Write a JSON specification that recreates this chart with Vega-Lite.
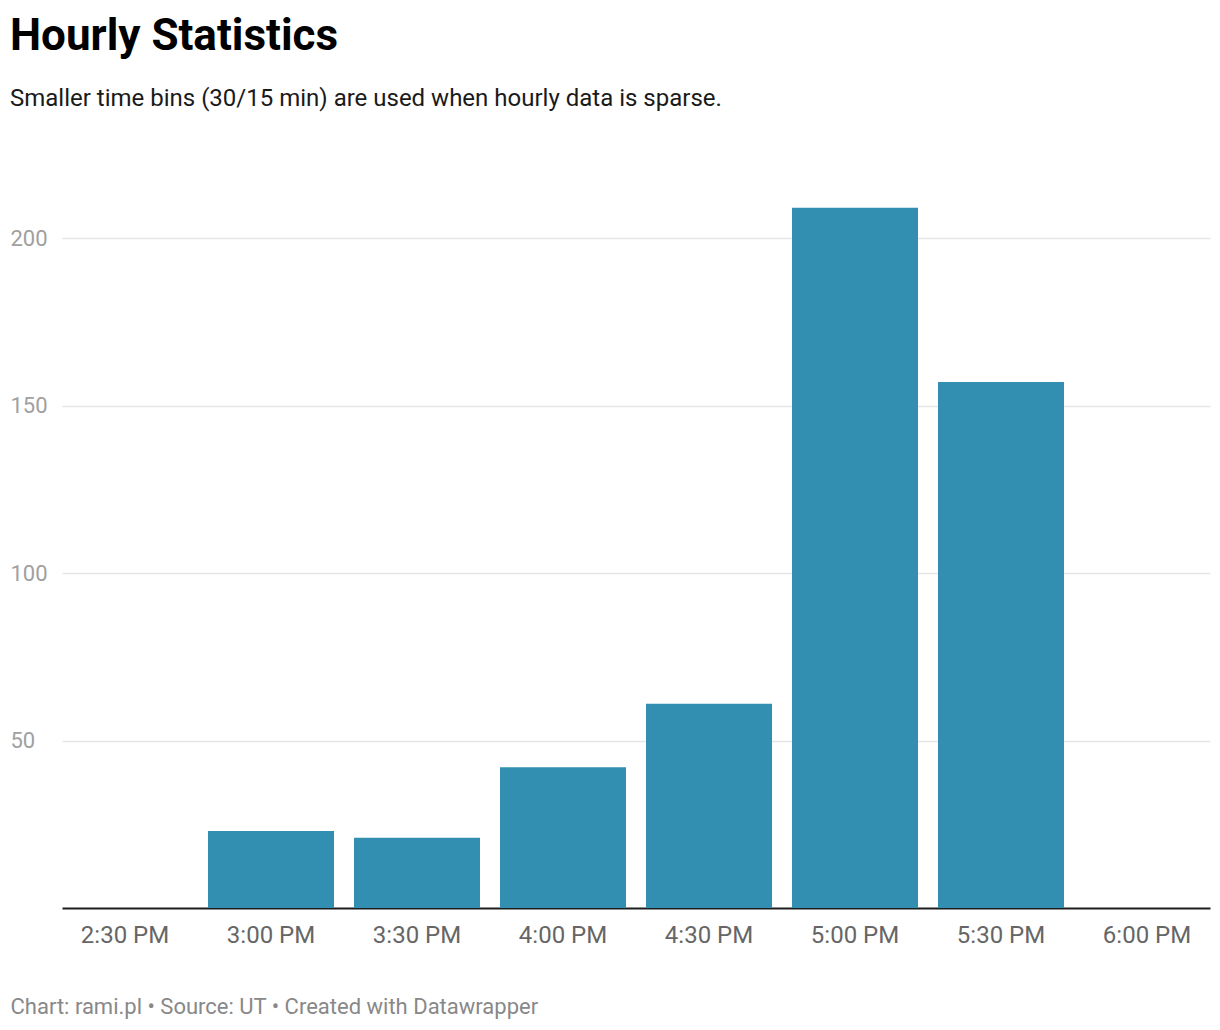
{
  "$schema": "https://vega.github.io/schema/vega-lite/v6.json",
  "width": 1148,
  "height": 737,
  "padding": {"left": 10, "top": 15, "right": 10, "bottom": 3},
  "background": "white",
  "title": {
    "text": "Hourly Statistics",
    "subtitle": "Smaller time bins (30/15 min) are used when hourly data is sparse.",
    "anchor": "start",
    "frame": "bounds",
    "font": "Roboto",
    "fontSize": 44,
    "fontWeight": "bold",
    "color": "#000000",
    "subtitleFont": "Roboto",
    "subtitleFontSize": 24,
    "subtitleColor": "#1a1a1a",
    "subtitlePadding": 28,
    "offset": 60
  },
  "data": {
    "values": [
      {"time": "2:30 PM", "count": 0},
      {"time": "3:00 PM", "count": 23},
      {"time": "3:30 PM", "count": 21},
      {"time": "4:00 PM", "count": 42},
      {"time": "4:30 PM", "count": 61},
      {"time": "5:00 PM", "count": 209},
      {"time": "5:30 PM", "count": 157},
      {"time": "6:00 PM", "count": 0}
    ]
  },
  "mark": {"type": "bar", "color": "#338fb2"},
  "encoding": {
    "x": {
      "field": "time",
      "type": "ordinal",
      "sort": null,
      "scale": {"paddingInner": 0.137, "paddingOuter": 0},
      "axis": {
        "title": "Chart: rami.pl • Source: UT • Created with Datawrapper",
        "titleFont": "Roboto",
        "titleFontSize": 22,
        "titleFontWeight": "normal",
        "titleColor": "#888888",
        "titleAnchor": "start",
        "titleAlign": "left",
        "titleX": -52,
        "titlePadding": 49,
        "labelAngle": 0,
        "labelFont": "Roboto",
        "labelFontSize": 24,
        "labelColor": "#666666",
        "labelPadding": 15,
        "ticks": false,
        "domainColor": "#1d1d1d",
        "domainWidth": 2,
        "grid": false
      }
    },
    "y": {
      "field": "count",
      "type": "quantitative",
      "scale": {"domain": [0, 220], "nice": false},
      "axis": {
        "title": null,
        "values": [50, 100, 150, 200],
        "labelFont": "Roboto",
        "labelFontSize": 22,
        "labelColor": "#a0a0a0",
        "labelAlign": "left",
        "labelBaseline": "middle",
        "labelPadding": 52,
        "ticks": false,
        "domain": false,
        "grid": true,
        "gridColor": "#e6e6e6",
        "gridWidth": 1.5
      }
    }
  },
  "config": {"view": {"stroke": null}}
}
